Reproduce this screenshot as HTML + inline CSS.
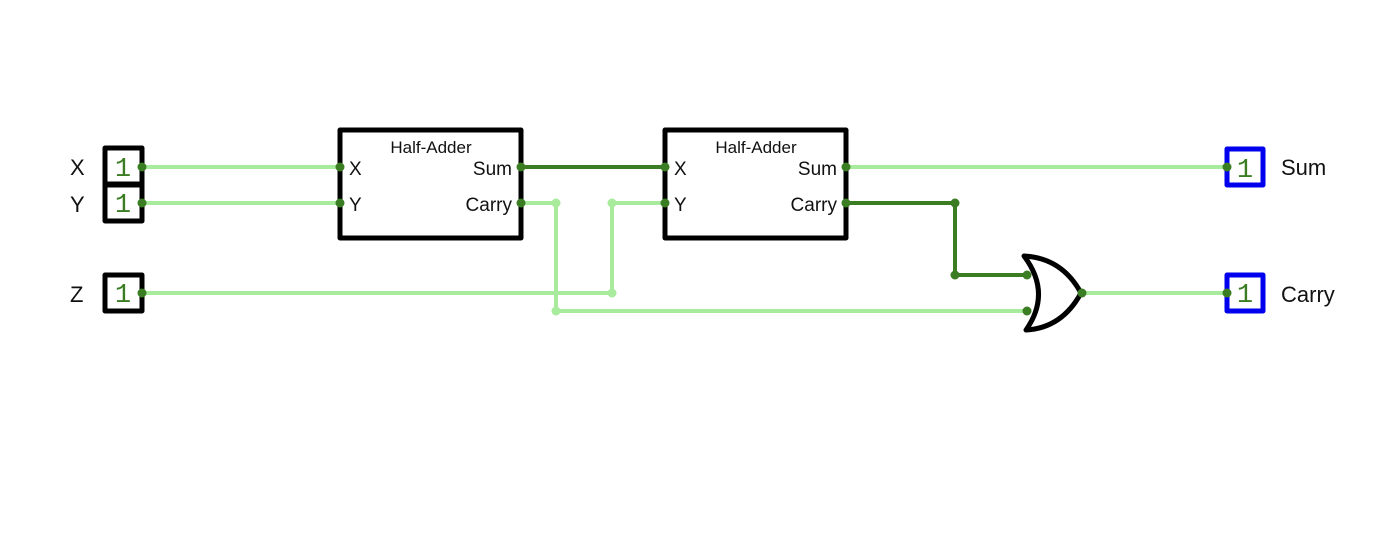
<!DOCTYPE html>
<html><head><meta charset="utf-8"><style>
html,body{margin:0;padding:0;background:#fff;}
svg{display:block;}
text{font-family:"Liberation Sans",sans-serif;fill:#111;}
.one{font-family:"Liberation Mono",monospace;fill:#3a7d22;font-size:27px;}
</style></head><body>
<svg width="1386" height="540" viewBox="0 0 1386 540" xmlns="http://www.w3.org/2000/svg">
<g fill="none" stroke-width="4" stroke-linejoin="round">
<g stroke="#a8eb9c">
<path d="M142 167 H340"/>
<path d="M142 203 H340"/>
<path d="M521 203 H556 V311 H1027"/>
<path d="M142 293 H612 V203 H665"/>
<path d="M846 167 H1227"/>
<path d="M1082 293 H1227"/>
</g>
<g stroke="#3a7d22">
<path d="M521 167 H665"/>
<path d="M846 203 H955 V275 H1027"/>
</g>
<g stroke="#000" stroke-width="5">
<rect x="105" y="148" width="37" height="36"/>
<rect x="105" y="185" width="37" height="36"/>
<rect x="105" y="275" width="37" height="36"/>
<rect x="340" y="130" width="181" height="108"/>
<rect x="665" y="130" width="181" height="108"/>
<path d="M1024 256 Q1062 258 1081 293 Q1062 328 1026 330 Q1052 293 1024 256 Z"/>
</g>
<g stroke="#0000ee" stroke-width="5">
<rect x="1227" y="149" width="36" height="36"/>
<rect x="1227" y="275" width="36" height="36"/>
</g>
</g>
<g fill="#3a7d22">
<circle cx="142" cy="167" r="4.5"/><circle cx="142" cy="203" r="4.5"/><circle cx="142" cy="293" r="4.5"/>
<circle cx="340" cy="167" r="4.5"/><circle cx="340" cy="203" r="4.5"/>
<circle cx="521" cy="167" r="4.5"/><circle cx="521" cy="203" r="4.5"/>
<circle cx="665" cy="167" r="4.5"/><circle cx="665" cy="203" r="4.5"/>
<circle cx="846" cy="167" r="4.5"/><circle cx="846" cy="203" r="4.5"/>
<circle cx="955" cy="203" r="4.5"/><circle cx="955" cy="275" r="4.5"/>
<circle cx="1027" cy="275" r="4.5"/><circle cx="1027" cy="311" r="4.5"/>
<circle cx="1082" cy="293" r="4.5"/>
<circle cx="1227" cy="167" r="4.5"/><circle cx="1227" cy="293" r="4.5"/>
</g>
<g fill="#a8eb9c">
<circle cx="556" cy="203" r="4.5"/><circle cx="556" cy="311" r="4.5"/>
<circle cx="612" cy="203" r="4.5"/><circle cx="612" cy="293" r="4.5"/>
</g>
<text class="one" x="123" y="176" text-anchor="middle">1</text>
<text class="one" x="123" y="212" text-anchor="middle">1</text>
<text class="one" x="123" y="302" text-anchor="middle">1</text>
<text class="one" x="1245" y="177" text-anchor="middle">1</text>
<text class="one" x="1245" y="302" text-anchor="middle">1</text>
<g font-size="22">
<text x="70" y="175">X</text>
<text x="70" y="212">Y</text>
<text x="70" y="302">Z</text>
<text x="1281" y="175">Sum</text>
<text x="1281" y="302">Carry</text>
</g>
<g font-size="17">
<text x="431" y="153" text-anchor="middle">Half-Adder</text>
<text x="756" y="153" text-anchor="middle">Half-Adder</text>
</g>
<g font-size="19">
<text x="349" y="175">X</text><text x="349" y="211">Y</text>
<text x="512" y="175" text-anchor="end">Sum</text><text x="512" y="211" text-anchor="end">Carry</text>
<text x="674" y="175">X</text><text x="674" y="211">Y</text>
<text x="837" y="175" text-anchor="end">Sum</text><text x="837" y="211" text-anchor="end">Carry</text>
</g>
</svg>
</body></html>
